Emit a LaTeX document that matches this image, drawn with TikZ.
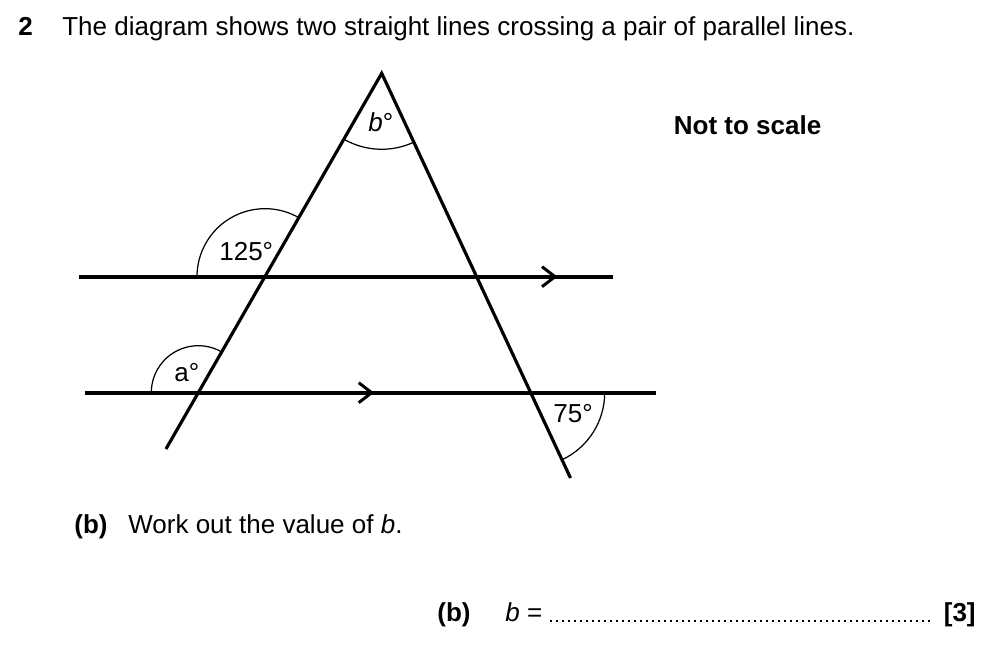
\documentclass[tikz,border=0pt]{standalone}
\usepackage{fontspec}
\setmainfont{Liberation Sans}
\usepackage{tikz}
\usetikzlibrary{calc}
\tikzset{
	parline/.style={line width=2.2pt},
	transline/.style={line width=1.8pt},
	anglearc/.style={line width=0.7pt},
	txt/.style={anchor=base west, inner sep=0pt, font=\fontsize{14.8}{17}\selectfont},
}
\def\parmark(#1){\draw[line width=1.7pt] ($(#1)+(-0.26,0.2)$) -- (#1) -- ($(#1)+(-0.26,-0.2)$);}

\begin{document}
\begin{tikzpicture}
		%%%%% START %%%%%
		\useasboundingbox (0, 0) rectangle (20, 13);
		
		\node[txt] (qnum) at (0.36, 12.28) {\textbf{2}};
		\node[txt] (qtext) at (1.24, 12.28) {The diagram shows two straight lines crossing a pair of parallel lines.};
		\node[txt] (scale) at (13.47, 10.31) {\textbf{Not to scale}};
		
		\coordinate (A) at (7.634, 11.534);
		\coordinate (P) at (5.30, 7.466);
		\coordinate (Q) at (3.966, 5.146);
		\coordinate (L) at (3.319, 4.02);
		\coordinate (R) at (9.528, 7.466);
		\coordinate (S) at (10.614, 5.146);
		\coordinate (E) at (11.41, 3.44);
		
		\draw[parline] (1.58, 7.466) -- (12.26, 7.466);
		\draw[parline] (1.70, 5.146) -- (13.11, 5.146);
		\draw[transline, line join=miter] (L) -- (A) -- (E);
		
		\coordinate (U) at (11.10, 7.466);
		\coordinate (V) at (7.434, 5.146);
		\parmark(U)
		\parmark(V)
		
		\draw[anglearc] (A) ++(240.15:1.52) arc (240.15:295:1.52);
		\draw[anglearc] (P) ++(60.15:1.36) arc (60.15:180:1.36);
		\draw[anglearc] (Q) ++(60.15:0.94) arc (60.15:180:0.94);
		\draw[anglearc] (S) ++(0:1.48) arc (0:-65:1.48);
		
		\node[txt] (bang) at (7.36, 10.37) {\textit{b}°};
		\node[txt] (oneangle) at (4.38, 7.78) {125°};
		\node[txt] (aang) at (3.48, 5.37) {a°};
		\node[txt] (sevang) at (11.06, 4.54) {75°};
		
		\node[txt] (partb) at (1.48, 2.32) {\textbf{(b)}};
		\node[txt] (work) at (2.56, 2.32) {Work out the value of \textit{b}.};
		
		\node[txt] (ansb) at (8.74, 0.566) {\textbf{(b)}};
		\node[txt] (beq) at (10.10, 0.566) {\textit{b} =};
		\foreach \x in {0,...,63}
			\fill ({11.02+0.12*\x-0.02}, 0.56) rectangle ++(0.04, 0.04);
		\node[txt] (marks) at (18.87, 0.566) {\textbf{[3]}};
		
		%%%%% END %%%%%
	\end{tikzpicture}
\end{document}
